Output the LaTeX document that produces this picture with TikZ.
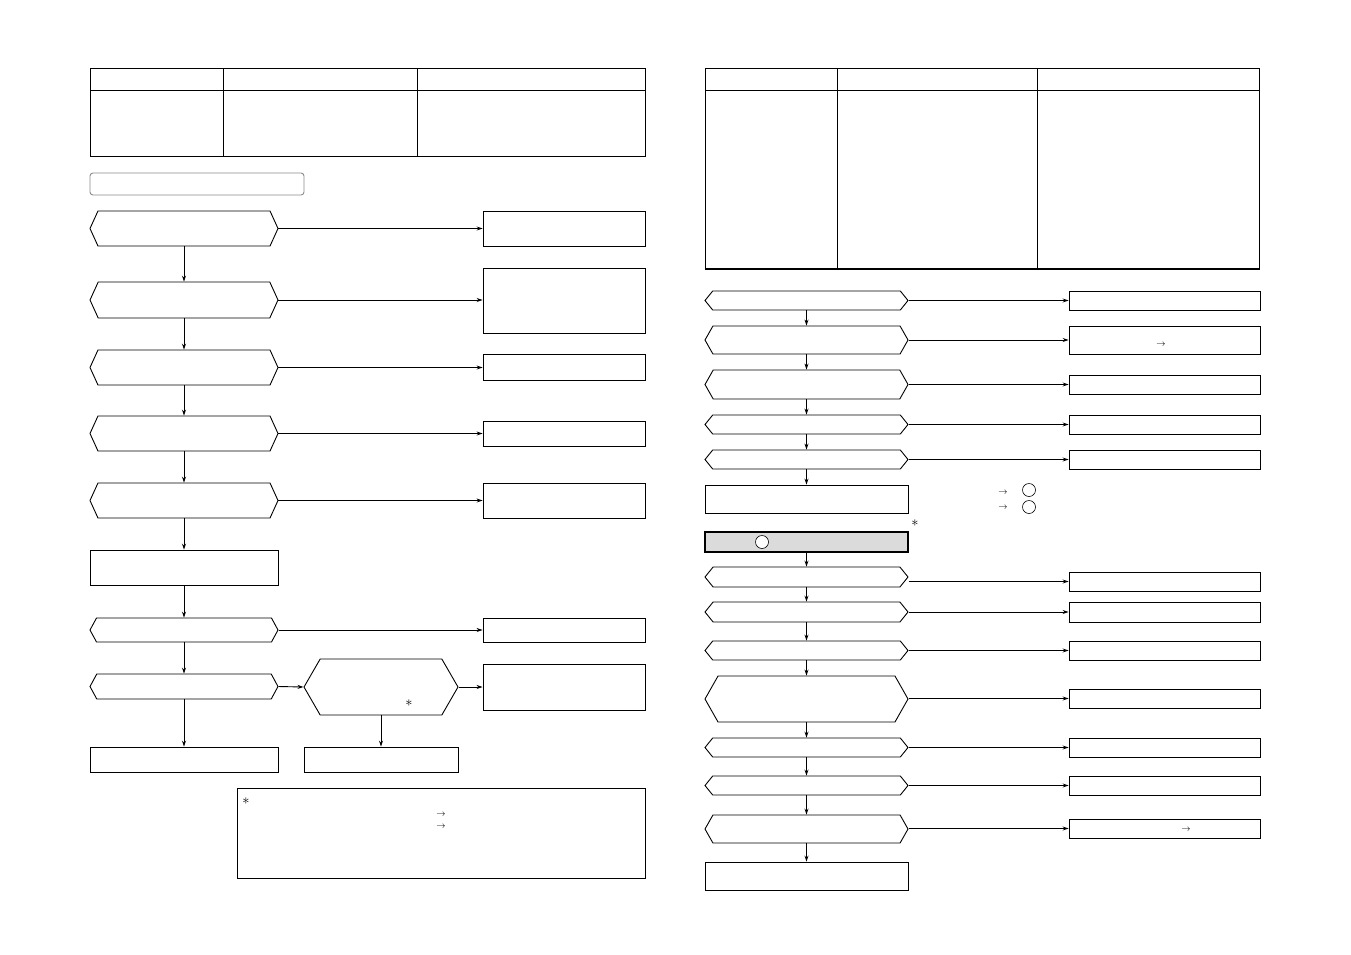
\documentclass[tikz,border=0pt]{standalone}
\usetikzlibrary{shapes.symbols,arrows.meta}

\begin{document}
\begin{tikzpicture}[x=1pt, y=-1pt, line width=0.9pt,
		dec/.style={signal, signal to=east and west, draw, inner sep=0pt, minimum width=#1},
		dec/.default=188pt,
		blk/.style={rectangle, draw, inner sep=0pt, minimum width=#1},
		blk/.default=162pt,
		go/.style={-{Stealth[length=6pt,width=4pt]}},
		txt/.style={inner sep=0pt, font=\small},
		star/.style={inner sep=0pt, font=\Large}]
	\useasboundingbox (0,0) rectangle (1351,954);

	% left page
		\draw (90,68) rectangle (645,156);
		\draw (90,90) -- (645,90);
		\draw (223,68) -- (223,156);
		\draw (417,68) -- (417,156);
		\draw [draw=black!45, rounded corners=3pt] (90,173) rectangle (304,195);

		\node [dec, minimum height=35pt, signal pointer angle=131] (h1) at (184,228.5) {};
		\node [dec, minimum height=36pt, signal pointer angle=131] (h2) at (184,300) {};
		\node [dec, minimum height=35pt, signal pointer angle=131] (h3) at (184,367.5) {};
		\node [dec, minimum height=35pt, signal pointer angle=131] (h4) at (184,433.5) {};
		\node [dec, minimum height=35pt, signal pointer angle=131] (h5) at (184,500.5) {};
		\node [blk=188pt, minimum height=35pt] (p6) at (184,567.5) {};
		\node [dec, minimum height=24pt, signal pointer angle=123] (h7) at (184,630) {};
		\node [dec, minimum height=25pt, signal pointer angle=123] (h8) at (184,686.5) {};
		\node [blk=188pt, minimum height=25pt] (e1) at (184,759.5) {};
		\node [dec=154pt, minimum height=56pt, signal pointer angle=120] (bh) at (381,687) {};
		\node [blk=154pt, minimum height=25pt] (e2) at (381,759.5) {};

		\node [blk, minimum height=35pt] (a1) at (564,228.5) {};
		\node [blk, minimum height=65pt] (a2) at (564,300.5) {};
		\node [blk, minimum height=26pt] (a3) at (564,367) {};
		\node [blk, minimum height=25pt] (a4) at (564,433.5) {};
		\draw [line width=1.8pt] (a4.south west) -- (a4.south east);
		\node [blk, minimum height=35pt] (a5) at (564,500.5) {};
		\node [blk, minimum height=24pt] (a7) at (564,630) {};
		\node [blk, minimum height=46pt] (a8) at (564,687) {};

		\draw [go] (h1) -- (h2);
		\draw [go] (h2) -- (h3);
		\draw [go] (h3) -- (h4);
		\draw [go] (h4) -- (h5);
		\draw [go] (h5) -- (p6);
		\draw [go] (p6) -- (h7);
		\draw [go] (h7) -- (h8);
		\draw [go] (h8) -- (e1);
		\draw [go] (bh.south) -- (e2);
		\draw [go] (h8.east) -- (bh.west);
		\draw [go] (h1.east) -- (h1.east -| a1.west);
		\draw [go] (h2.east) -- (h2.east -| a2.west);
		\draw [go] (h3.east) -- (h3.east -| a3.west);
		\draw [go] (h4.east) -- (h4.east -| a4.west);
		\draw [go] (h5.east) -- (h5.east -| a5.west);
		\draw [go] (h7.east) -- (h7.east -| a7.west);
		\draw [go] (bh.east) -- (bh.east -| a8.west);

		\node [star] (s1) at (409,703) {$\ast$};
		\node [blk=408pt, minimum height=90pt] (nt) at (441,833) {};
		\node [star] (s2) at (246,801) {$\ast$};
		\node [txt] (t1) at (441,815) {$\rightarrow$};
		\node [txt] (t2) at (441,827) {$\rightarrow$};

	% right page
		\draw (705,68) rectangle (1259,269);
		\draw [line width=1.8pt] (705,269) -- (1259,269);
		\draw (705,90) -- (1259,90);
		\draw (837,68) -- (837,269);
		\draw (1037,68) -- (1037,269);

		\node [dec=203pt, minimum height=19pt, signal pointer angle=102] (r1) at (806.5,300.5) {};
		\node [dec=203pt, minimum height=28pt, signal pointer angle=121] (r2) at (806.5,340) {};
		\node [dec=203pt, minimum height=29pt, signal pointer angle=121] (r3) at (806.5,384.5) {};
		\node [dec=203pt, minimum height=19pt, signal pointer angle=102] (r4) at (806.5,424.5) {};
		\node [dec=203pt, minimum height=19pt, signal pointer angle=102] (r5) at (806.5,459.5) {};
		\node [blk=203pt, minimum height=28pt] (q6) at (806.5,499) {};
		\node [blk=203pt, minimum height=20pt, fill=black!14, line width=1.8pt] (gb) at (806.5,542) {};
		\node [dec=203pt, minimum height=20pt, signal pointer angle=102] (r7) at (806.5,577) {};
		\node [dec=203pt, minimum height=20pt, signal pointer angle=102] (r8) at (806.5,612) {};
		\node [dec=203pt, minimum height=19pt, signal pointer angle=102] (r9) at (806.5,650.5) {};
		\node [dec=203pt, minimum height=46pt, signal pointer angle=121] (r10) at (806.5,699) {};
		\node [dec=203pt, minimum height=19pt, signal pointer angle=102] (r11) at (806.5,747.5) {};
		\node [dec=203pt, minimum height=19pt, signal pointer angle=102] (r12) at (806.5,785.5) {};
		\node [dec=203pt, minimum height=28pt, signal pointer angle=121] (r13) at (806.5,829) {};
		\node [blk=203pt, minimum height=28pt] (qe) at (806.5,876) {};

		\node [blk=191pt, minimum height=19pt] (b1) at (1164.5,300.5) {};
		\node [blk=191pt, minimum height=28pt] (b2) at (1164.5,340) {};
		\node [blk=191pt, minimum height=19pt] (b3) at (1164.5,384.5) {};
		\node [blk=191pt, minimum height=19pt] (b4) at (1164.5,424.5) {};
		\node [blk=191pt, minimum height=19pt] (b5) at (1164.5,459.5) {};
		\node [blk=191pt, minimum height=19pt] (b7) at (1164.5,581.5) {};
		\node [blk=191pt, minimum height=20pt] (b8) at (1164.5,612) {};
		\draw [line width=1.8pt] (b8.south west) -- (b8.south east);
		\node [blk=191pt, minimum height=19pt] (b9) at (1164.5,650.5) {};
		\node [blk=191pt, minimum height=19pt] (b10) at (1164.5,698.5) {};
		\node [blk=191pt, minimum height=19pt] (b11) at (1164.5,747.5) {};
		\node [blk=191pt, minimum height=19pt] (b12) at (1164.5,785.5) {};
		\node [blk=191pt, minimum height=19pt] (b13) at (1164.5,828.5) {};

		\foreach \i/\j in {r1/r2, r2/r3, r3/r4, r4/r5, r5/q6, gb/r7, r7/r8, r8/r9, r9/r10, r10/r11, r11/r12, r12/r13, r13/qe}
			\draw [go] (\i) -- (\j);
		\foreach \i/\j in {r1/b1, r2/b2, r3/b3, r4/b4, r5/b5, r7/b7, r8/b8, r9/b9, r10/b10, r11/b11, r12/b12, r13/b13}
			\draw [go] (\j.west -| \i.east) -- (\j.west);

		\node [txt] (t3) at (1161,345) {$\rightarrow$};
		\node [txt] (t4) at (1186,830) {$\rightarrow$};
		\node [txt] (t5) at (1003,493) {$\rightarrow$};
		\node [txt] (t6) at (1003,508) {$\rightarrow$};
		\node [circle, draw, line width=0.6pt, minimum size=13pt, inner sep=0pt] (c1) at (1029,490) {};
		\node [circle, draw, line width=0.6pt, minimum size=13pt, inner sep=0pt] (c2) at (1029,507) {};
		\node [star] (s3) at (915,523) {$\ast$};
		\node [circle, draw, fill=white, line width=0.6pt, minimum size=13pt, inner sep=0pt] (c3) at (762,542) {};
	\end{tikzpicture}
\end{document}
